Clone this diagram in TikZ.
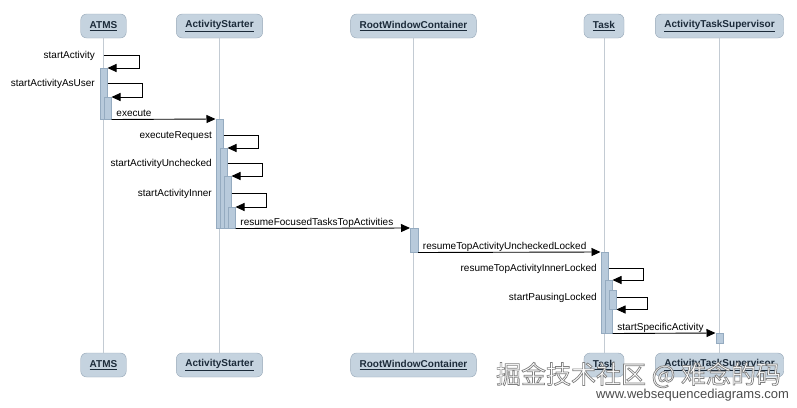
\documentclass[tikz,border=0pt]{standalone}
\usepackage{fontspec}
\setmainfont{Liberation Sans}
\newfontfamily\cjkfont{Noto Sans CJK SC}
\usetikzlibrary{arrows.meta}

\definecolor{boxfill}{HTML}{C5D3DF}
\definecolor{boxline}{HTML}{97A8B8}
\definecolor{barfill}{HTML}{B8CADB}
\definecolor{barline}{HTML}{95ABC0}
\definecolor{lifeclr}{HTML}{C3CBD3}
\definecolor{namecolor}{HTML}{1C2B3A}

% outlined text for the watermark
\newcommand{\outlinetext}[1]{\special{pdf:literal direct 0.5 G 0.7 w 2 Tr}#1\special{pdf:literal direct 0 Tr}}

\tikzset{
  lifebox/.style={draw=boxline, fill=boxfill, rounded corners=6pt, minimum height=24pt,
    inner xsep=9pt, inner ysep=0pt, text=namecolor, font=\fontsize{10}{12}\selectfont\bfseries},
  lifeline/.style={draw=lifeclr, line width=0.7pt},
  actbar/.style={draw=barline, fill=barfill, line width=0.5pt, minimum width=7.5pt, inner sep=0pt, anchor=north},
  msg/.style={-{Triangle[length=9pt,width=8pt]}, line width=0.9pt},
  fwdlabel/.style={font=\fontsize{10}{12}\selectfont, inner sep=0pt, pos=0, anchor=base west, xshift=4.5pt, yshift=3.5pt},
  selflabel/.style={font=\fontsize{10}{12}\selectfont, inner sep=0pt, anchor=base east},
  wmark/.style={font=\cjkfont\fontsize{25}{28}\selectfont, inner sep=0pt},
}

\begin{document}
\begin{tikzpicture}[x=1pt,y=-1pt]
  \useasboundingbox[fill=white] (0,0) rectangle (797,407);

  % participants and lifelines
  \foreach \nm/\x/\txt in {atms/103.5/ATMS, starter/219.5/ActivityStarter, root/413.5/RootWindowContainer,
      task/604/Task, super/719.5/ActivityTaskSupervisor} {
    \node[lifebox] (\nm-top) at (\x,26) {\underline{\txt}};
    \node[lifebox] (\nm-bot) at (\x,365) {\underline{\txt}};
    \draw[lifeline] (\nm-top) -- (\nm-bot);
  }

  % activation bars
  \node[actbar, minimum height=51pt] (atms-a) at (103.5,68) {};
  \node[actbar, minimum height=22pt] (atms-b) at (107.5,97) {};

  \node[actbar, minimum height=109pt] (starter-a) at (219.5,119) {};
  \node[actbar, minimum height=80pt] (starter-b) at (223.5,148) {};
  \node[actbar, minimum height=52pt] (starter-c) at (227.5,176) {};
  \node[actbar, minimum height=21pt] (starter-d) at (231.5,207) {};

  \node[actbar, minimum height=24pt] (root-a) at (414,228) {};

  \node[actbar, minimum height=81pt] (task-a) at (604.5,252) {};
  \node[actbar, minimum height=53pt] (task-b) at (608.5,280) {};
  \node[actbar, minimum height=19pt] (task-c) at (612.5,290) {};

  \node[actbar, minimum height=10pt] (super-a) at (719.5,333) {};

  % ATMS
  \coordinate (sa) at (103.5,55);
  \draw[msg] (sa) -- ++(35.5,0) |- (atms-a.north east);
  \node[selflabel] (l-sa) at (95,58.5) {startActivity};
  \draw[msg] ([yshift=-15pt]atms-a.north east) -- ++(35,0) |- (atms-b.north east);
  \node[selflabel] (l-sau) at (95,86.5) {startActivityAsUser};
  \draw[msg] (atms-b.south east) -- node[fwdlabel] (l-ex) {execute} (starter-a.north west);

  % ActivityStarter
  \draw[msg] ([yshift=-16pt]starter-a.north east) -- ++(35,0) |- (starter-b.north east);
  \node[selflabel] (l-er) at (212,138.5) {executeRequest};
  \draw[msg] ([yshift=-15pt]starter-b.north east) -- ++(35,0) |- (starter-c.north east);
  \node[selflabel] (l-sau2) at (212,166.5) {startActivityUnchecked};
  \draw[msg] ([yshift=-17pt]starter-c.north east) -- ++(35,0) |- (starter-d.north east);
  \node[selflabel] (l-sai) at (212,196.5) {startActivityInner};
  \draw[msg] (starter-d.south east) -- node[fwdlabel] (l-rf) {resumeFocusedTasksTopActivities} (root-a.north west);

  % RootWindowContainer
  \draw[msg] (root-a.south east) -- node[fwdlabel] (l-ru) {resumeTopActivityUncheckedLocked} (task-a.north west);

  % Task
  \draw[msg] ([yshift=-16pt]task-a.north east) -- ++(35,0) |- (task-b.north east);
  \node[selflabel] (l-ri) at (597,271.5) {resumeTopActivityInnerLocked};
  \draw[msg] ([yshift=-7pt]task-c.north east) -- ++(31,0) |- (task-c.south east);
  \node[selflabel] (l-sp) at (597,300.5) {startPausingLocked};
  \draw[msg] (task-b.south east) -- node[fwdlabel] (l-ss) {startSpecificActivity} (super-a.north west);

  % watermark
  \node[wmark, text=white] (wm-text) at (638.5,375) {\outlinetext{掘金技术社区 @ 难念的码}};
  \node[font=\fontsize{13}{15}\selectfont, text=black!70, inner sep=0pt] (wm-site) at (692.5,395) {www.websequencediagrams.com};
\end{tikzpicture}
\end{document}
